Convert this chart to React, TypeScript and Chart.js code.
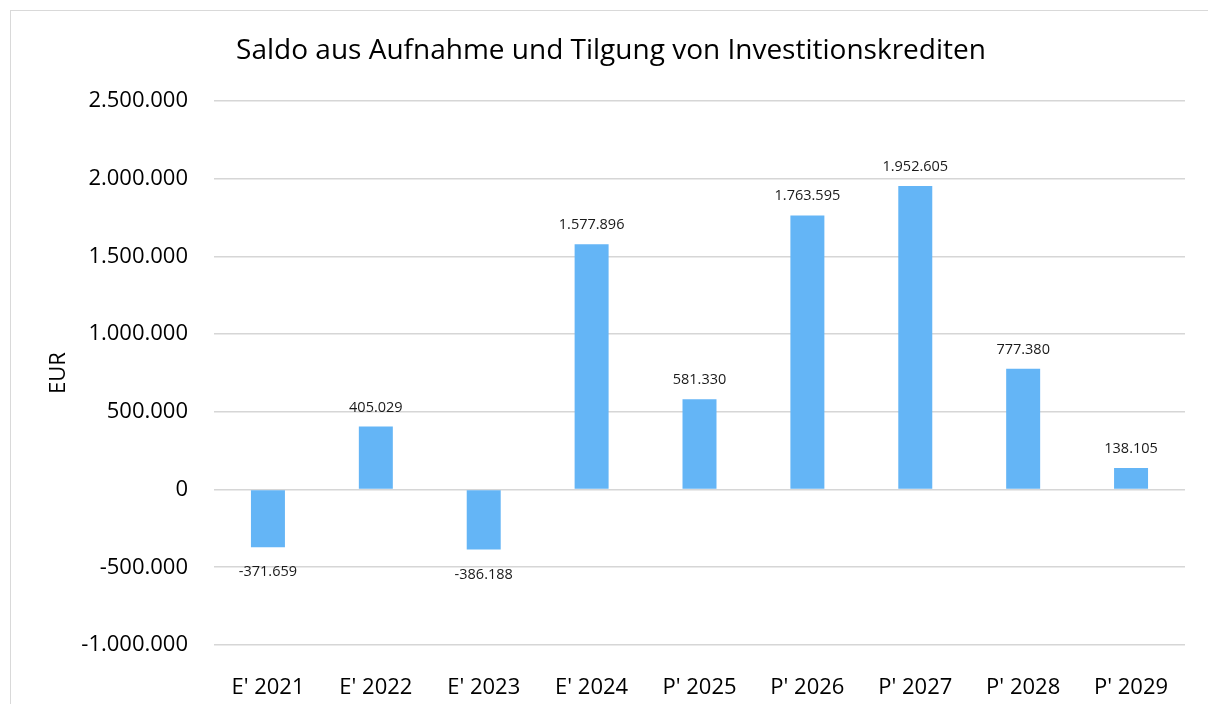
import React, { useEffect, useRef } from "react";
import { Chart, registerables } from "chart.js";

Chart.register(...registerables);

const TITLE = "Saldo aus Aufnahme und Tilgung von Investitionskrediten";
const Y_TITLE = "EUR";
const categories = ["E' 2021", "E' 2022", "E' 2023", "E' 2024", "P' 2025", "P' 2026", "P' 2027", "P' 2028", "P' 2029"];
const saldo = [-371659, 405029, -386188, 1577896, 581330, 1763595, 1952605, 777380, 138105];
const yMin = -1000000;
const yMax = 2500000;
const yStep = 500000;

const FONT = "'Open Sans', 'Noto Sans', sans-serif";

function fmt(v: number): string {
  const neg = v < 0;
  const s = Math.round(Math.abs(v)).toString();
  const parts: string[] = [];
  for (let i = s.length; i > 0; i -= 3) parts.unshift(s.substring(Math.max(0, i - 3), i));
  return (neg ? "-" : "") + parts.join(".");
}

const decorPlugin = {
  id: "decor",
  beforeDraw(chart: any) {
    const ctx = chart.ctx;
    ctx.save();
    ctx.strokeStyle = "#d9d9d9";
    ctx.lineWidth = 1;
    ctx.strokeRect(10.5, 10.5, 1400, 900);
    ctx.restore();
  },
  afterDraw(chart: any) {
    const ctx = chart.ctx;
    ctx.save();
    ctx.fillStyle = "#000";
    ctx.font = `28px ${FONT}`;
    ctx.textAlign = "center";
    ctx.textBaseline = "middle";
    ctx.fillText(TITLE, 611, 51);
    const meta = chart.getDatasetMeta(0);
    ctx.font = `14.5px ${FONT}`;
    ctx.fillStyle = "#1a1a1a";
    meta.data.forEach((el: any, i: number) => {
      const v = saldo[i];
      ctx.textBaseline = "alphabetic";
      if (v >= 0) ctx.fillText(fmt(v), el.x, el.y - 15);
      else ctx.fillText(fmt(v), el.x, el.y + 29);
    });
    ctx.restore();
  },
};

export default function App() {
  const ref = useRef<HTMLCanvasElement | null>(null);
  useEffect(() => {
    if (!ref.current) return;
    const chart = new Chart(ref.current, {
      type: "bar",
      data: {
        labels: categories,
        datasets: [
          {
            data: saldo,
            backgroundColor: "#64B5F6",
            borderWidth: 0,
            categoryPercentage: 1,
            barPercentage: 0.315,
          },
        ],
      },
      options: {
        animation: false,
        responsive: false,
        layout: { padding: { left: 0, right: 23, top: 101, bottom: 0 } },
        plugins: {
          legend: { display: false },
          title: { display: false },
          tooltip: { enabled: false },
        },
        scales: {
          x: {
            grid: { display: false },
            border: { display: false },
            ticks: { color: "#000", font: { family: FONT, size: 22 }, padding: 22 },
            afterFit: (s: any) => {
              s.height = 704 - 645;
            },
          },
          y: {
            min: yMin,
            max: yMax,
            ticks: {
              stepSize: yStep,
              color: "#000",
              font: { family: FONT, size: 22 },
              padding: 26,
              callback: (v: any) => fmt(Number(v)),
            },
            grid: { color: "#d6d6d6", lineWidth: 1.6, drawTicks: false },
            border: { display: false },
            title: {
              display: true,
              text: Y_TITLE,
              color: "#000",
              font: { family: FONT, size: 22 },
              padding: { top: 46, bottom: 0 },
            },
            afterFit: (s: any) => {
              s.width = 214;
            },
          },
        },
      },
      plugins: [decorPlugin],
    } as any);
    return () => chart.destroy();
  }, []);
  return (
    <div style={{ position: "absolute", left: 0, top: 0, width: 1208, height: 704 }}>
      <canvas ref={ref} width={1208} height={704} style={{ width: 1208, height: 704, display: "block" }} />
    </div>
  );
}
